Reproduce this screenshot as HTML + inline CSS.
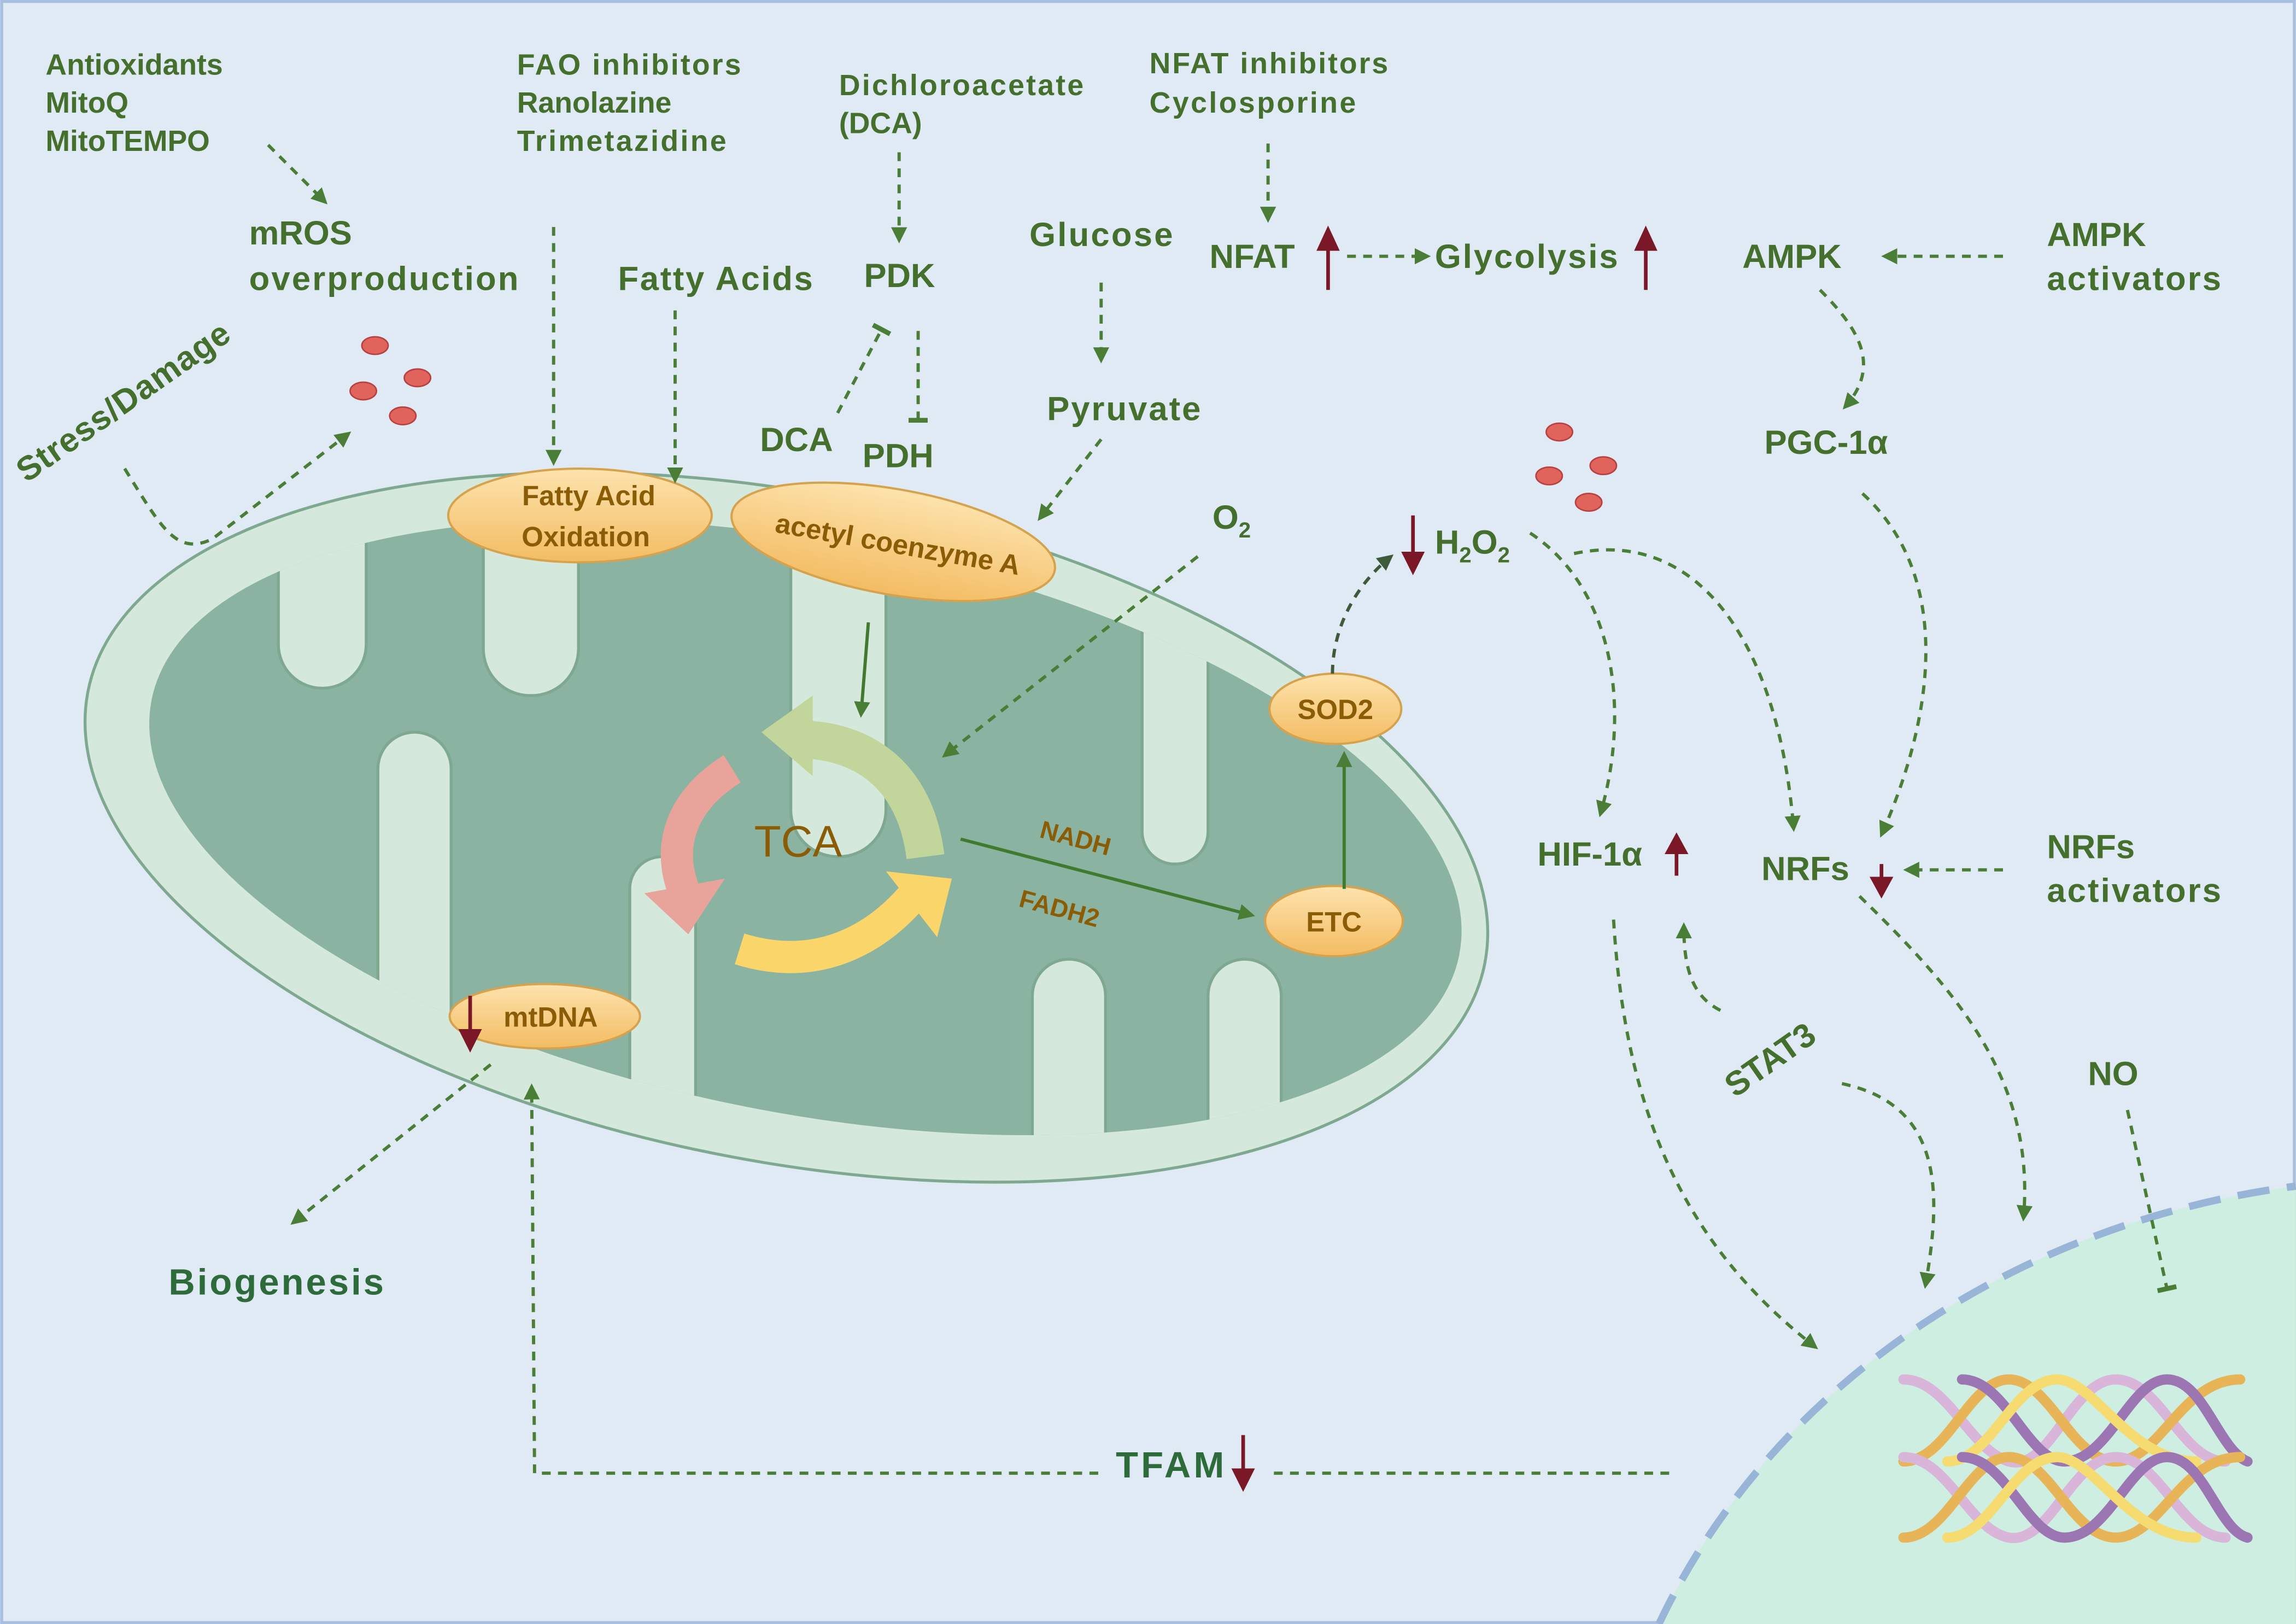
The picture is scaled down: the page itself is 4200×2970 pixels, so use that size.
<!DOCTYPE html>
<html><head><meta charset="utf-8"><style>
html,body{margin:0;padding:0;background:#dfeaf4;width:4200px;height:2970px;overflow:hidden;}
svg{display:block}
text{font-family:"Liberation Sans",sans-serif;font-weight:bold;}
.g{fill:#456f2c;font-size:20px}
.gl{fill:#456f2c;font-size:23px}
.br{fill:#8a5c05;font-size:19px}
.d{fill:none;stroke:#4a7d35;stroke-width:2.2;stroke-dasharray:6 5}
</style></head><body>
<svg width="4200" height="2970" viewBox="0 0 1568 1109" xmlns="http://www.w3.org/2000/svg">
<defs>
<marker id="a" viewBox="0 0 10 10" refX="8" refY="5" markerWidth="5" markerHeight="5" orient="auto"><path d="M0,0 L10,5 L0,10 z" fill="#4a7d35"/></marker>
<marker id="t" viewBox="0 0 10 10" refX="5" refY="5" markerWidth="6" markerHeight="6" orient="auto"><path d="M5,0 L5,10" stroke="#4a7d35" stroke-width="2.5"/></marker>
<marker id="ad" viewBox="0 0 10 10" refX="8" refY="5" markerWidth="5" markerHeight="5" orient="auto"><path d="M0,0 L10,5 L0,10 z" fill="#3f5a3a"/></marker>
<linearGradient id="o" x1="0" y1="0" x2="0" y2="1"><stop offset="0" stop-color="#fde3ad"/><stop offset="1" stop-color="#f3bc62"/></linearGradient>
<clipPath id="cl"><ellipse cx="550" cy="565" rx="455" ry="195" transform="rotate(11 550 565)"/></clipPath>
</defs>
<rect x="1" y="1" width="1566" height="1107" fill="#dfeaf4" stroke="#a8bfe0" stroke-width="2"/>
<path d="M1133,1109 A560,495 0 0 1 1568,810 L1568,1109 Z" fill="#cdeee0"/>
<path d="M1133,1109 A560,495 0 0 1 1568,810" fill="none" stroke="#98b5d8" stroke-width="5" stroke-dasharray="22 12"/>
<ellipse cx="537" cy="565" rx="486" ry="228" transform="rotate(11 537 565)" fill="#d4e8dc" stroke="#7fa890" stroke-width="2"/>
<g clip-path="url(#cl)">
<rect x="80" y="250" width="950" height="600" fill="#8bb3a1"/>
<g fill="#d4e8dc" stroke="#7fa890" stroke-width="2">
<rect x="190" y="250" width="60" height="220" rx="30"/>
<rect x="330" y="250" width="65" height="225" rx="32"/>
<rect x="540" y="250" width="65" height="335" rx="32"/>
<rect x="780" y="330" width="45" height="260" rx="22"/>
<rect x="258" y="500" width="50" height="340" rx="25"/>
<rect x="430" y="585" width="45" height="260" rx="22"/>
<rect x="705" y="655" width="50" height="190" rx="25"/>
<rect x="825" y="655" width="50" height="190" rx="25"/>
</g>
</g>
<g fill="url(#o)" stroke="#d6a24e" stroke-width="1.5">
<ellipse cx="396" cy="352" rx="90" ry="32"/>
<ellipse cx="610" cy="370" rx="112" ry="36" transform="rotate(10 610 370)"/>
<ellipse cx="912" cy="484" rx="45" ry="24"/>
<ellipse cx="911" cy="629" rx="47" ry="24"/>
<ellipse cx="372" cy="694" rx="65" ry="22"/>
</g>
<text class="br" x="402" y="345" text-anchor="middle">Fatty Acid</text>
<text class="br" x="400" y="373" text-anchor="middle">Oxidation</text>
<text class="br" x="612" y="378" text-anchor="middle" transform="rotate(10 612 378)">acetyl coenzyme A</text>
<text class="br" x="912" y="491" text-anchor="middle">SOD2</text>
<text class="br" x="911" y="636" text-anchor="middle">ETC</text>
<text class="br" x="376" y="701" text-anchor="middle">mtDNA</text>
<path d="M632,585 C625,530 590,505 545,505" fill="none" stroke="#c2d69b" stroke-width="26"/>
<path d="M520,500 L555,475 L555,530 z" fill="#c2d69b"/>
<path d="M500,525 C460,550 455,585 470,615" fill="none" stroke="#e8a39b" stroke-width="22"/>
<path d="M440,610 L495,600 L470,638 z" fill="#e8a39b"/>
<path d="M505,648 C560,665 600,640 625,610" fill="none" stroke="#fad56a" stroke-width="22"/>
<path d="M650,600 L605,595 L640,640 z" fill="#fad56a"/>
<text x="545" y="585" text-anchor="middle" style="font-weight:normal;font-size:30px;fill:#8a5c05">TCA</text>
<path d="M656,573 L855,625" stroke="#3f7a2e" stroke-width="2.2" marker-end="url(#a)" fill="none"/>
<text class="br" x="733" y="578" transform="rotate(15 733 578)" text-anchor="middle" style="font-size:17px">NADH</text>
<text class="br" x="722" y="626" transform="rotate(15 722 626)" text-anchor="middle" style="font-size:17px">FADH2</text>
<path d="M918,607 L918,515" stroke="#3f7a2e" stroke-width="2.2" marker-end="url(#a)"/>
<path d="M593,425 L588,488" stroke="#3f7a2e" stroke-width="2.2" marker-end="url(#a)"/>
<g fill="#e0635c" stroke="#b84040" stroke-width="1">
<ellipse cx="256" cy="236" rx="9" ry="6"/><ellipse cx="248" cy="267" rx="9" ry="6"/><ellipse cx="285" cy="258" rx="9" ry="6"/><ellipse cx="275" cy="284" rx="9" ry="6"/>
<ellipse cx="1065" cy="295" rx="9" ry="6"/><ellipse cx="1058" cy="325" rx="9" ry="6"/><ellipse cx="1095" cy="318" rx="9" ry="6"/><ellipse cx="1085" cy="343" rx="9" ry="6"/>
</g>
<g class="g">
<text x="31" y="51">Antioxidants</text><text x="31" y="77">MitoQ</text><text x="31" y="103">MitoTEMPO</text>
<text x="353" y="51" textLength="153">FAO inhibitors</text><text x="353" y="77">Ranolazine</text><text x="353" y="103" textLength="143">Trimetazidine</text>
<text x="573" y="65" textLength="167">Dichloroacetate</text><text x="573" y="91">(DCA)</text>
<text x="785" y="50" textLength="163">NFAT inhibitors</text><text x="785" y="77" textLength="141">Cyclosporine</text>
</g>
<g class="gl">
<text x="170" y="167">mROS</text><text x="170" y="198" textLength="184">overproduction</text>
<text x="422" y="198" textLength="133">Fatty Acids</text>
<text x="590" y="196">PDK</text>
<text x="703" y="168" textLength="98">Glucose</text>
<text x="826" y="183">NFAT</text>
<text x="980" y="183" textLength="125">Glycolysis</text>
<text x="1190" y="183">AMPK</text>
<text x="1398" y="168">AMPK</text><text x="1398" y="198" textLength="119">activators</text>
<text x="715" y="287" textLength="105">Pyruvate</text>
<text x="519" y="308">DCA</text>
<text x="589" y="319">PDH</text>
<text x="1205" y="310">PGC-1α</text>
<text x="828" y="361">O<tspan font-size="15" dy="6">2</tspan></text>
<text x="980" y="378">H<tspan font-size="15" dy="6">2</tspan><tspan dy="-6">O</tspan><tspan font-size="15" dy="6">2</tspan></text>
<text x="1050" y="591">HIF-1α</text>
<text x="1203" y="601">NRFs</text>
<text x="1398" y="586">NRFs</text><text x="1398" y="616" textLength="119">activators</text>
<text x="1426" y="741">NO</text>
<text x="1185" y="750" transform="rotate(-35 1185 750)">STAT3</text>
<text x="18" y="330" transform="rotate(-35 18 330)" textLength="172">Stress/Damage</text>
<text x="115" y="884" style="fill:#2d6b3a;font-size:25px" textLength="147">Biogenesis</text>
<text x="762" y="1009" style="fill:#2d6b3a;font-size:25px" textLength="74">TFAM</text>
</g>
<g stroke="#7a1828" stroke-width="2.5" fill="#7a1828">
<path d="M907,198 L907,165"/><path d="M901,170 L907,157 L913,170z"/>
<path d="M1124,198 L1124,165"/><path d="M1118,170 L1124,157 L1130,170z"/>
<path d="M965,352 L965,383"/><path d="M959,378 L965,390 L971,378z"/>
<path d="M1145,598 L1145,578"/><path d="M1139,582 L1145,571 L1151,582z"/>
<path d="M1285,590 L1285,604"/><path d="M1279,600 L1285,611 L1291,600z"/>
<path d="M321,680 L321,708"/><path d="M315,704 L321,716 L327,704z"/>
<path d="M849,980 L849,1008"/><path d="M843,1004 L849,1016 L855,1004z"/>
</g>
<path class="d" d="M183,99 L222,138" marker-end="url(#a)"/>
<path class="d" d="M378,155 L378,316" marker-end="url(#a)"/>
<path class="d" d="M461,212 L461,328" marker-end="url(#a)"/>
<path class="d" d="M614,104 L614,164" marker-end="url(#a)"/>
<path class="d" d="M866,98 L866,150" marker-end="url(#a)"/>
<path class="d" d="M627,226 L627,287" marker-end="url(#t)"/>
<path class="d" d="M572,282 L602,225" marker-end="url(#t)"/>
<path class="d" d="M752,193 L752,246" marker-end="url(#a)"/>
<path class="d" d="M752,300 L710,354" marker-end="url(#a)"/>
<path class="d" d="M920,175 L975,175" marker-end="url(#a)"/>
<path class="d" d="M1368,175 L1287,175" marker-end="url(#a)"/>
<path class="d" d="M1243,198 C1270,225 1285,250 1260,278" marker-end="url(#a)"/>
<path class="d" d="M85,320 C110,360 120,380 145,368 L238,296" marker-end="url(#a)"/>
<path class="d" d="M818,380 L645,516" marker-end="url(#a)"/>
<path class="d" d="M910,460 C910,430 925,400 950,380" marker-end="url(#ad)" style="stroke:#3f5a3a"/>
<path class="d" d="M1045,364 C1100,400 1115,480 1093,556" marker-end="url(#a)"/>
<path class="d" d="M1075,378 C1160,360 1215,440 1225,566" marker-end="url(#a)"/>
<path class="d" d="M1272,337 C1330,390 1325,480 1285,570" marker-end="url(#a)"/>
<path class="d" d="M1368,594 L1302,594" marker-end="url(#a)"/>
<path class="d" d="M1102,628 C1110,760 1150,850 1240,920" marker-end="url(#a)"/>
<path class="d" d="M1270,612 C1340,680 1390,740 1382,832" marker-end="url(#a)"/>
<path class="d" d="M1175,690 C1155,680 1150,660 1150,632" marker-end="url(#a)"/>
<path class="d" d="M1258,740 C1330,755 1325,820 1315,878" marker-end="url(#a)"/>
<path class="d" d="M1453,758 L1480,880" marker-end="url(#t)"/>
<path class="d" d="M335,727 L200,835" marker-end="url(#a)"/>
<path class="d" d="M1140,1006 L868,1006"/>
<path class="d" d="M750,1006 L365,1006 L363,742" marker-end="url(#a)"/>
<g fill="none" stroke-width="7" stroke-linecap="round">
<path d="M1300,942 C1330,942 1345,990 1372,998 C1400,1006 1415,942 1445,942 C1475,942 1490,998 1520,998" stroke="#d9b5d9"/>
<path d="M1300,998 C1330,998 1345,942 1372,942 C1400,942 1415,998 1445,998 C1475,998 1490,942 1530,942" stroke="#e7b557"/>
<path d="M1340,942 C1370,942 1385,998 1410,998 C1440,998 1455,942 1480,942 C1505,942 1515,990 1535,998" stroke="#9b76b2"/>
<path d="M1330,998 C1360,998 1375,942 1405,942 C1430,942 1455,998 1500,998" stroke="#f6dc70"/>
<path d="M1300,995 C1330,995 1345,1045 1372,1050 C1400,1055 1415,995 1445,995 C1475,995 1490,1050 1520,1050" stroke="#d9b5d9"/>
<path d="M1300,1050 C1330,1050 1345,995 1372,995 C1400,995 1415,1050 1445,1050 C1475,1050 1490,995 1530,995" stroke="#e7b557"/>
<path d="M1340,995 C1370,995 1385,1050 1410,1050 C1440,1050 1455,995 1480,995 C1505,995 1515,1045 1535,1050" stroke="#9b76b2"/>
<path d="M1330,1050 C1360,1050 1375,995 1405,995 C1430,995 1455,1050 1500,1050" stroke="#f6dc70"/>
</g>
</svg>
</body></html>
